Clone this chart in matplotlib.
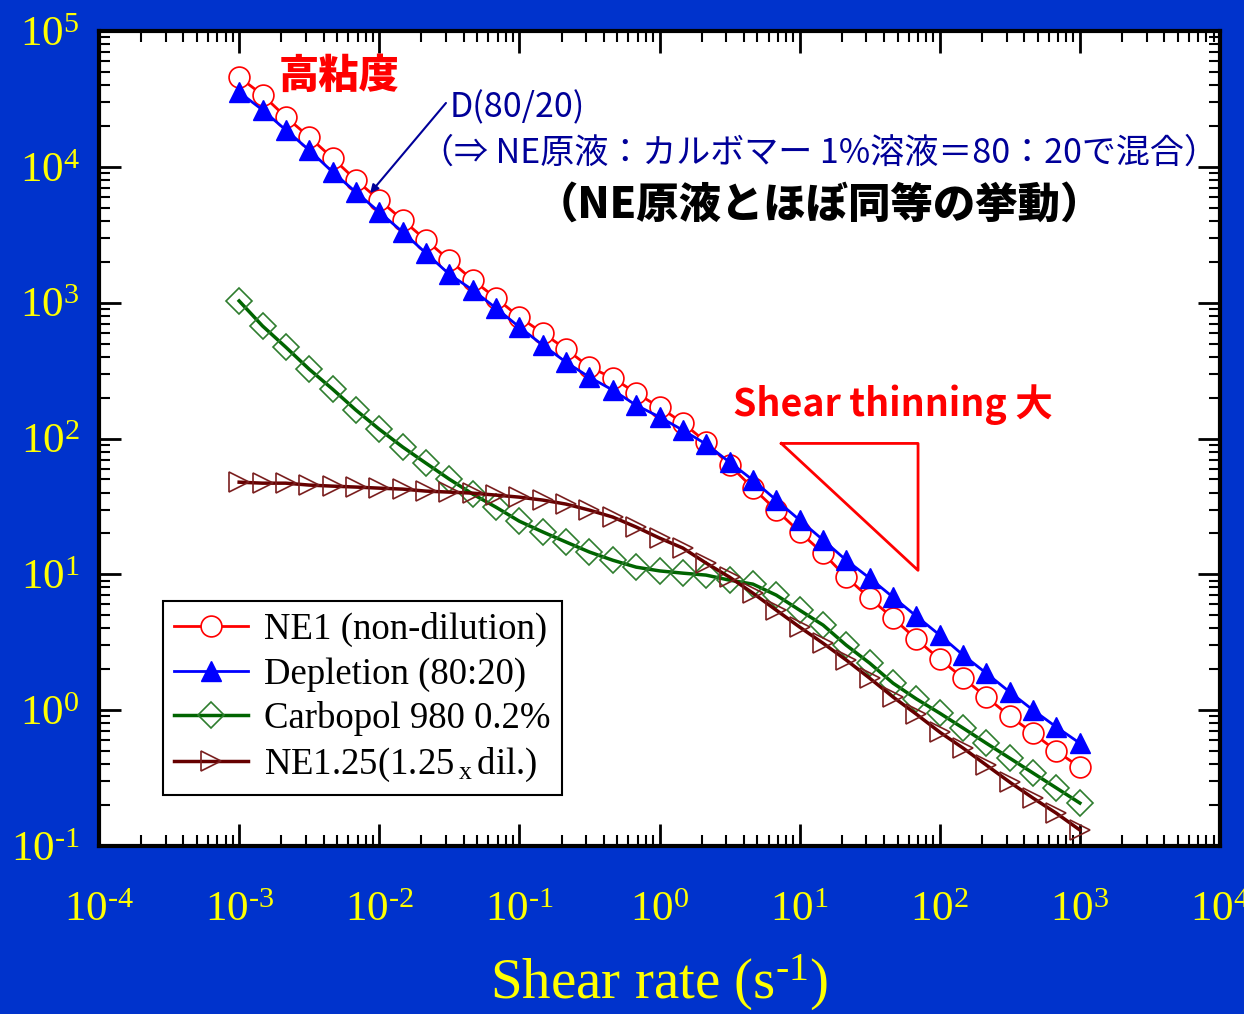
import numpy as np
import matplotlib.pyplot as plt
from matplotlib.ticker import LogLocator, FuncFormatter, NullFormatter

plt.rcParams['font.family'] = ['Liberation Serif']
plt.rcParams['mathtext.fontset'] = 'custom'
plt.rcParams['mathtext.rm'] = 'Liberation Serif'
plt.rcParams['mathtext.it'] = 'Liberation Serif:italic'
plt.rcParams['axes.unicode_minus'] = False

JP = ['Noto Sans CJK JP', 'DejaVu Sans']

# shear rate grid (s^-1), 6 points per decade
shear_rate = [0.001, 0.00147, 0.00215, 0.00316, 0.00464, 0.00681,
              0.01, 0.0147, 0.0215, 0.0316, 0.0464, 0.0681,
              0.1, 0.147, 0.215, 0.316, 0.464, 0.681,
              1.0, 1.47, 2.15, 3.16, 4.64, 6.81,
              10.0, 14.7, 21.5, 31.6, 46.4, 68.1,
              100.0, 147.0, 215.0, 316.0, 464.0, 681.0, 1000.0]

# viscosity (Pa s)
ne1 = [45800, 33800, 23300, 16600, 11600, 8000,
       5700, 4060, 2890, 2060, 1470, 1080,
       783, 597, 455, 336, 279, 216,
       170, 130, 94.1, 63.7, 43.1, 29.7,
       20.5, 14.3, 9.54, 6.68, 4.76, 3.33,
       2.37, 1.72, 1.25, 0.903, 0.677, 0.499, 0.380]

depletion = [35500, 26200, 18700, 13300, 9160, 6520,
             4650, 3310, 2320, 1620, 1240, 912,
             661, 487, 365, 283, 227, 176,
             144, 115, 90.9, 67.0, 49.4, 35.2,
             25.1, 17.9, 12.7, 9.38, 6.79, 4.92,
             3.57, 2.54, 1.87, 1.36, 1.00, 0.750, 0.571]

carbopol = [1030, 673, 471, 324, 231, 162,
            117, 86.5, 65.9, 50.2, 39.0, 31.2,
            24.6, 20.5, 17.3, 14.6, 12.7, 11.3,
            10.6, 10.2, 9.87, 9.06, 8.47, 7.03,
            5.45, 4.23, 3.01, 2.22, 1.58, 1.21,
            0.950, 0.737, 0.571, 0.443, 0.344, 0.267, 0.207]

ne125 = [47.7, 46.9, 46.9, 45.4, 44.6, 43.9,
         43.1, 42.4, 41.0, 40.3, 39.6, 38.3,
         37.0, 35.2, 32.9, 29.7, 26.4, 22.3,
         18.5, 15.6, 12.1, 9.54, 7.27, 5.45,
         4.09, 3.11, 2.34, 1.72, 1.25, 0.934,
         0.689, 0.525, 0.394, 0.295, 0.225, 0.174, 0.131]

labels = ['NE1 (non-dilution)', 'Depletion (80:20)',
          'Carbopol 980 0.2%', 'NE1.25(1.25$\\,_{\\mathrm{x}}\\,$dil.)']

# slope guide triangle (shear rate, viscosity)
guide_x = [7.4, 70, 70, 7.4]
guide_y = [92, 92, 10.7, 92]


def pow10(v, pos):
    e = int(round(np.log10(v)))
    s = str(e).replace('-', '‐')
    return '$\\mathdefault{10^{%s}}$' % s


fig = plt.figure(figsize=(12.44, 10.14), dpi=100, facecolor='#0033cc')
ax = fig.add_axes([0.0796, 0.1657, 0.9011, 0.8037])
ax.set_facecolor('white')

ax.plot(shear_rate, ne1, '-o', color='red', lw=2, ms=15, mfc='white',
        mec='red', mew=1.2, label=labels[0], zorder=3)
ax.plot(shear_rate, depletion, '-^', color='blue', lw=2, ms=15, mfc='blue',
        mec='blue', label=labels[1], zorder=4)
ax.plot(shear_rate, carbopol, '-D', color='#006400', lw=2.5, ms=13.5, mfc='none',
        mec='#2e7d2e', mew=1.2, label=labels[2], zorder=2)
ax.plot(shear_rate, ne125, '->', color='#660000', lw=2.5, ms=15, mfc='none',
        mec='#7a1f1f', mew=1.2, label=labels[3], zorder=2)

ax.plot(guide_x, guide_y, color='red', lw=2)

ax.set_xscale('log')
ax.set_yscale('log')
ax.set_xlim(1e-4, 1e4)
ax.set_ylim(1e-1, 1e5)

for axis in (ax.xaxis, ax.yaxis):
    axis.set_major_locator(LogLocator(base=10, numticks=20))
    axis.set_minor_locator(LogLocator(base=10, subs=np.arange(2, 10), numticks=100))
    axis.set_major_formatter(FuncFormatter(pow10))
    axis.set_minor_formatter(NullFormatter())

ax.tick_params(which='both', direction='in', top=True, right=True, color='black')
ax.tick_params(which='major', length=16, width=2)
ax.tick_params(which='minor', length=8, width=1.5)
ax.tick_params(axis='x', which='major', labelsize=31, labelcolor='yellow', pad=33)
ax.tick_params(axis='y', which='major', labelsize=31, labelcolor='yellow', pad=14)
for s in ax.spines.values():
    s.set_linewidth(3)
    s.set_color('black')

ax.set_xlabel('Shear rate (s$^{\\mathrm{‐1}}$)', color='yellow', fontsize=41, labelpad=16)

leg = ax.legend(loc='lower left', bbox_to_anchor=(0.057, 0.0626), borderaxespad=0,
                fontsize=26.5, frameon=True, fancybox=False, framealpha=1,
                edgecolor='black', handlelength=2.0, labelspacing=0.26,
                borderpad=0.3, handletextpad=0.45)
leg.get_frame().set_linewidth(1.5)

# annotations
ax.text(0.214, 0.945, '高粘度', transform=ax.transAxes, ha='center', va='center',
        color='red', fontsize=29, fontweight='heavy', family=JP)
ax.text(0.313, 0.9055, 'D(80/20)', transform=ax.transAxes, ha='left', va='center',
        color='#000099', fontsize=24.5, family=JP)
ax.text(0.6425, 0.850, '（⇒ NE原液：カルボマー 1%溶液＝80：20で混合）', transform=ax.transAxes,
        ha='center', va='center', color='#000099', fontsize=24.5, family=JP)
ax.text(0.643, 0.7865, '（NE原液とほぼ同等の挙動）', transform=ax.transAxes,
        ha='center', va='center', color='black', fontsize=30.5, fontweight='heavy', family=JP)
ax.text(0.708, 0.542, 'Shear thinning 大', transform=ax.transAxes, ha='center', va='center',
        color='red', fontsize=27, fontweight='bold', family=JP)
ax.annotate('', xy=(8.6e-3, 6400), xytext=(0.3095, 0.9117), textcoords='axes fraction',
            arrowprops=dict(arrowstyle='-|>', color='#000099', lw=1.5, mutation_scale=12,
                            shrinkA=0, shrinkB=0))

fig.savefig('out.png', dpi=100, facecolor=fig.get_facecolor())
